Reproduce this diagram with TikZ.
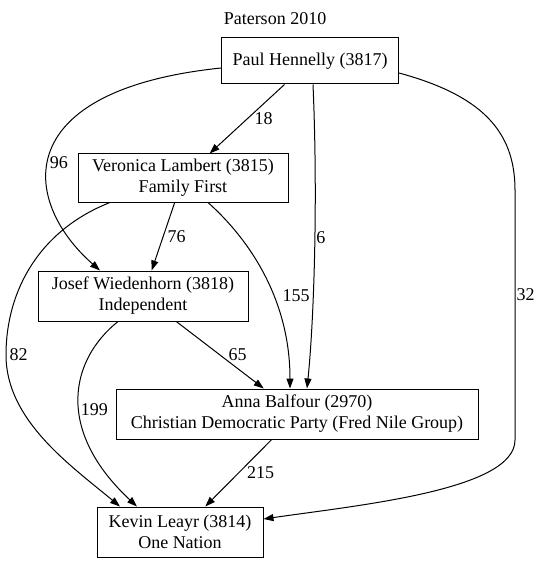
\documentclass[tikz,border=0pt]{standalone}
\usepackage{fontspec}
\setmainfont{Liberation Serif}
\usetikzlibrary{arrows.meta}
\begin{document}
\begin{tikzpicture}[x=1pt, y=-1pt,
        box/.style={draw, line width=1pt, inner sep=0pt, align=center, font=\fontsize{18}{21}\selectfont},
        edge/.style={draw, line width=1pt, -{Triangle[length=10pt,width=7pt]}},
        lbl/.style={font=\fontsize{18}{21}\selectfont, inner sep=1pt}]
        \useasboundingbox (0,0) rectangle (539,564);

        \node[lbl] (title) at (275,19) {Paterson 2010};
        \node[box, minimum width=177pt, minimum height=46pt] (paul) at (310,61) {Paul Hennelly (3817)};
        \node[box, minimum width=210pt, minimum height=48pt] (veronica) at (183,178) {Veronica Lambert (3815)\\Family First};
        \node[box, minimum width=210pt, minimum height=50pt] (josef) at (143,296) {Josef Wiedenhorn (3818)\\Independent};
        \node[box, minimum width=362pt, minimum height=50pt] (anna) at (297,414) {Anna Balfour (2970)\\Christian Democratic Party (Fred Nile Group)};
        \node[box, minimum width=166pt, minimum height=50pt] (kevin) at (180,532) {Kevin Leayr (3814)\\One Nation};

        \draw[edge] (paul) -- node[lbl, anchor=west, xshift=6pt] {18} (veronica);
        \draw[edge] ([yshift=-7pt]paul.west) .. controls (10,90) and (20,200) .. node[lbl, pos=0.55, anchor=west] {96} ([xshift=-43pt]josef.north);
        \draw[edge] ([xshift=3pt]paul.south) .. controls (318,200) and (314,320) .. node[lbl, pos=0.45, anchor=west] {6} ([xshift=10pt]anna.north);
        \draw[edge] ([yshift=-12pt]paul.east) .. controls (480,95) and (515,130) .. (515,190) -- node[lbl, pos=0.42, anchor=west] {32} (515,440) .. controls (515,490) and (360,505) .. ([yshift=13pt]kevin.east);
        \draw[edge] (veronica) -- node[lbl, anchor=west, xshift=3pt] {76} (josef);
        \draw[edge] ([xshift=25pt]veronica.south) .. controls (250,240) and (290,300) .. node[lbl, pos=0.6, anchor=west, xshift=8pt] {155} ([xshift=-7pt]anna.north);
        \draw[edge] ([xshift=-73pt]veronica.south) .. controls (40,230) and (6,290) .. (6,355) node[lbl, anchor=west, xshift=2pt] {82} .. controls (6,420) and (70,465) .. ([xshift=-60pt]kevin.north);
        \draw[edge] (josef) -- node[lbl, anchor=west, xshift=7pt] {65} (anna);
        \draw[edge] ([xshift=-25pt]josef.south) .. controls (70,360) and (55,430) .. node[lbl, pos=0.55, anchor=west] {199} ([xshift=-43pt]kevin.north);
        \draw[edge] (anna) -- node[lbl, anchor=west, xshift=7pt] {215} (kevin);
\end{tikzpicture}
\end{document}
